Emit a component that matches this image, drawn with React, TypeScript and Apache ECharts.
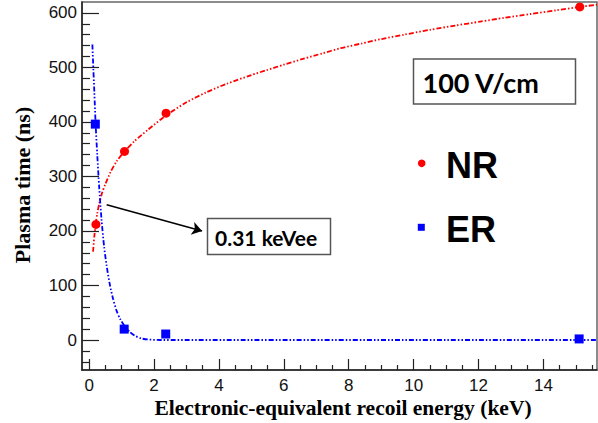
import React, { useEffect, useRef } from "react";
import * as echarts from "echarts";

// Measured data points
const nrX = [0.21, 1.09, 2.37, 15.12];
const nrY = [212, 346, 416, 611];
const erX = [0.19, 1.08, 2.36, 15.1];
const erY = [396, 20, 11, 2];

// Fit curves
const nrFitX = [0.12, 0.16, 0.2, 0.25, 0.31, 0.4, 0.5, 0.66, 0.85, 1.09, 1.4, 1.8, 2.37, 3.0, 3.6, 4.24, 5.0, 5.47, 6.0, 6.61, 7.2, 7.73, 8.4, 9.0, 9.7, 10.5, 11.3, 12.05, 12.8, 13.6, 14.4, 15.12, 15.65];
const nrFitY = [162, 190, 212, 232, 250, 270, 286, 308, 328, 346, 365, 385, 412, 436, 454, 470, 486, 495, 505, 516, 526, 535, 544, 552, 560, 569, 577, 584, 591, 598, 605, 611, 615];
const erFitX = [0.1, 0.13, 0.16, 0.2, 0.25, 0.31, 0.38, 0.46, 0.54, 0.64, 0.74, 0.85, 0.96, 1.1, 1.25, 1.4, 1.6, 1.8, 2.2, 15.65];
const erFitY = [542, 497, 455, 396, 340, 280, 222, 172, 136, 101, 75, 53, 38, 25, 15, 8, 3, 1, 0, 0];

// Axis ticks
const xMajor = [0, 2, 4, 6, 8, 10, 12, 14];
const xMinor = [0.5, 1, 1.5, 2.5, 3, 3.5, 4.5, 5, 5.5, 6.5, 7, 7.5, 8.5, 9, 9.5, 10.5, 11, 11.5, 12.5, 13, 13.5, 14.5, 15, 15.5];
const yMajor = [0, 100, 200, 300, 400, 500, 600];
const yMinor = [-40, -20, 20, 40, 60, 80, 120, 140, 160, 180, 220, 240, 260, 280, 320, 340, 360, 380, 420, 440, 460, 480, 520, 540, 560, 580];

// Annotation arrow (data coordinates)
const arrowStart = [0.54, 248];
const arrowEnd = [3.48, 200];

const xMin = -0.22, xMax = 15.65, yMin = -55, yMax = 620;

const zip = (a: number[], b: number[]) => a.map((v, i) => [v, b[i]]);

export default function App() {
  const ref = useRef<HTMLDivElement>(null);
  useEffect(() => {
    if (!ref.current) return;
    const chart = echarts.init(ref.current, null, { renderer: "svg" });
    const axisCol = "#222";
    const dashPattern = [5, 2, 1.5, 2, 1.5, 2];
    chart.setOption({
      animation: false,
      grid: { left: 82, right: 1, top: 2, bottom: 53, show: true, borderColor: "#666", borderWidth: 1.5 },
      xAxis: [
        {
          type: "value", min: xMin, max: xMax,
          axisLine: { show: true, onZero: false, lineStyle: { color: axisCol, width: 1.5 } },
          axisTick: { show: true, inside: true, length: 11, customValues: xMajor, lineStyle: { color: axisCol, width: 1.2 } },
          axisLabel: { customValues: xMajor, fontSize: 17, fontFamily: "Liberation Sans", color: "#111", margin: 7 },
          splitLine: { show: false },
        },
        {
          type: "value", min: xMin, max: xMax, position: "bottom",
          axisLine: { show: false, onZero: false },
          axisTick: { show: true, inside: true, length: 5, customValues: xMinor, lineStyle: { color: axisCol, width: 1.2 } },
          axisLabel: { show: false },
          splitLine: { show: false },
        },
      ],
      yAxis: [
        {
          type: "value", min: yMin, max: yMax, position: "left",
          axisLine: { show: true, onZero: false, lineStyle: { color: axisCol, width: 1.5 } },
          axisTick: { show: true, inside: true, length: 17, customValues: yMajor, lineStyle: { color: axisCol, width: 1.2 } },
          axisLabel: { customValues: yMajor, fontSize: 17, fontFamily: "Liberation Sans", color: "#111", margin: 5 },
          splitLine: { show: false },
        },
        {
          type: "value", min: yMin, max: yMax, position: "left", offset: 0,
          axisLine: { show: false, onZero: false },
          axisTick: { show: true, inside: true, length: 8, customValues: yMinor, lineStyle: { color: axisCol, width: 1.2 } },
          axisLabel: { show: false },
          splitLine: { show: false },
        },
      ],
      series: [
        {
          type: "line", data: zip(nrFitX, nrFitY), showSymbol: false, smooth: 0.25,
          lineStyle: { color: "#ff0000", width: 1.8, type: dashPattern },
        },
        {
          type: "line", data: zip(erFitX, erFitY), showSymbol: false, smooth: 0.25,
          lineStyle: { color: "#0000ff", width: 1.8, type: dashPattern },
        },
        { type: "scatter", data: zip(nrX, nrY), symbol: "circle", symbolSize: 9, itemStyle: { color: "#ff0000", opacity: 1 } },
        { type: "scatter", data: zip(erX, erY), symbol: "rect", symbolSize: 9, itemStyle: { color: "#0000ff", opacity: 1 } },
        {
          type: "line", data: [], z: 5,
          markLine: {
            silent: true, symbol: ["none", "arrow"], symbolSize: 10,
            label: { show: false },
            lineStyle: { color: "#000", width: 1.5, type: "solid" },
            itemStyle: { color: "#000" },
            data: [[{ coord: arrowStart }, { coord: arrowEnd }]],
          },
        },
      ],
      graphic: [
        { type: "rect", shape: { x: 413.5, y: 59, width: 162, height: 45 }, style: { fill: "#fff", stroke: "#555", lineWidth: 1.5 } },
        { type: "text", x: 422.5, y: 82, style: { text: "100 V/cm", font: "bold 27px Lato", fill: "#000", verticalAlign: "middle" } },
        { type: "rect", shape: { x: 207.5, y: 218.5, width: 123, height: 36 }, style: { fill: "#fff", stroke: "#555", lineWidth: 1.5 } },
        { type: "text", x: 215, y: 237, style: { text: "0.31 keVee", font: "bold 21px Lato", fill: "#000", verticalAlign: "middle" } },
        { type: "circle", shape: { cx: 421.7, cy: 163.3, r: 3.8 }, style: { fill: "#ff0000" } },
        { type: "rect", shape: { x: 417.8, y: 223.8, width: 7, height: 7 }, style: { fill: "#0000ff" } },
        { type: "text", x: 446, y: 165, style: { text: "NR", font: "bold 36px 'Liberation Sans'", fill: "#000", verticalAlign: "middle" } },
        { type: "text", x: 446, y: 229.5, style: { text: "ER", font: "bold 36px 'Liberation Sans'", fill: "#000", verticalAlign: "middle" } },
        { type: "text", x: 343, y: 408, style: { text: "Electronic-equivalent recoil energy (keV)", font: "bold 21.5px 'Liberation Serif'", fill: "#000", align: "center", verticalAlign: "middle" } },
        { type: "text", x: 22, y: 185, rotation: Math.PI / 2, style: { text: "Plasma time (ns)", font: "bold 22px 'Liberation Serif'", fill: "#000", align: "center", verticalAlign: "middle" } },
      ],
    });
    return () => chart.dispose();
  }, []);
  return <div ref={ref} style={{ position: "fixed", left: 0, top: 0, width: 598, height: 423, background: "#fff" }} />;
}
